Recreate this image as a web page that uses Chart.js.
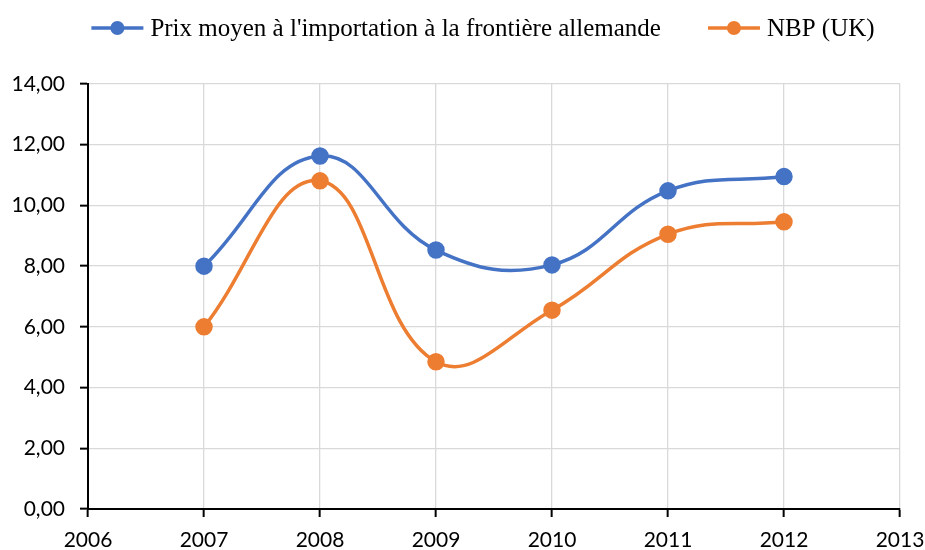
<!DOCTYPE html>
<html>
<head>
<meta charset="utf-8">
<script src="https://cdn.jsdelivr.net/npm/chart.js@4/dist/chart.umd.min.js"></script>
<style>
  html, body { margin: 0; padding: 0; background: #fff; }
  #wrap { width: 925px; height: 550px; }
</style>
</head>
<body>
<div id="wrap"><canvas id="myChart" width="925" height="550"></canvas></div>
<script>
// ===== data =====
const years = [2007, 2008, 2009, 2010, 2011, 2012];
const importPrice = [8.00, 11.63, 8.53, 8.04, 10.48, 10.95]; // Prix moyen ... allemande
const nbpUK = [6.00, 10.81, 4.85, 6.55, 9.05, 9.46];          // NBP (UK)
const seriesNames = ["Prix moyen à l'importation à la frontière allemande", "NBP (UK)"];
const yTicks = [0, 2, 4, 6, 8, 10, 12, 14];
const xTicks = [2006, 2007, 2008, 2009, 2010, 2011, 2012, 2013];

const BLUE = "#4472C4";
const ORANGE = "#ED7D31";

const toPoints = (vals) => years.map((y, i) => ({ x: y, y: vals[i] }));

// legend drawn by hand (line + dot marker, like Excel)
const excelLegend = {
  id: "excelLegend",
  afterDraw(chart) {
    const ctx = chart.ctx;
    const colors = [BLUE, ORANGE];
    const markerW = 52, textGap = 7, itemGap = 47, cy = 28;
    ctx.save();
    ctx.font = "25px 'Liberation Serif'";
    ctx.textBaseline = "middle";
    const widths = seriesNames.map((t) => ctx.measureText(t).width);
    let total = 0;
    widths.forEach((w, i) => {
      total += markerW + textGap + w + (i ? itemGap : 0);
    });
    let x = 483 - total / 2;
    seriesNames.forEach((name, i) => {
      ctx.strokeStyle = colors[i];
      ctx.lineWidth = 3.5;
      ctx.beginPath();
      ctx.moveTo(x, cy);
      ctx.lineTo(x + markerW, cy);
      ctx.stroke();
      ctx.fillStyle = colors[i];
      ctx.beginPath();
      ctx.arc(x + markerW / 2, cy, 7, 0, Math.PI * 2);
      ctx.fill();
      ctx.fillStyle = "#000";
      ctx.fillText(name, x + markerW + textGap, cy + 1);
      x += markerW + textGap + widths[i] + itemGap;
    });
    ctx.restore();
  },
};

const tickFont = { family: "'Lato', 'Liberation Sans', sans-serif", size: 21 };

const ctx = document.getElementById("myChart").getContext("2d");
const myChart = new Chart(ctx, {
  type: "line",
  data: {
    datasets: [
      {
        label: seriesNames[0],
        data: toPoints(importPrice),
        borderColor: BLUE,
        backgroundColor: BLUE,
        borderWidth: 3.5,
        pointRadius: 7,
        pointHoverRadius: 7,
        tension: 0.42,
      },
      {
        label: seriesNames[1],
        data: toPoints(nbpUK),
        borderColor: ORANGE,
        backgroundColor: ORANGE,
        borderWidth: 3.5,
        pointRadius: 7,
        pointHoverRadius: 7,
        tension: 0.42,
      },
    ],
  },
  options: {
    responsive: false,
    animation: false,
    layout: { padding: { top: 84, right: 0, left: 0, bottom: 0 } },
    plugins: {
      legend: { display: false },
      tooltip: { enabled: false },
    },
    scales: {
      x: {
        type: "linear",
        min: 2006,
        max: 2013,
        afterBuildTicks: (scale) => {
          scale.ticks = xTicks.map((v) => ({ value: v }));
        },
        afterFit: (scale) => {
          scale.height = 41;
          scale.paddingRight = 25;
        },
        ticks: {
          color: "#000",
          font: tickFont,
          padding: 11,
          maxRotation: 0,
          callback: (v) => String(v),
        },
        grid: {
          color: "#d9d9d9",
          lineWidth: 1.3,
          tickColor: "#000",
          tickWidth: 2,
          tickLength: 8,
        },
        border: { color: "#000", width: 2 },
      },
      y: {
        min: 0,
        max: 14,
        afterBuildTicks: (scale) => {
          scale.ticks = yTicks.map((v) => ({ value: v }));
        },
        afterFit: (scale) => {
          scale.width = 88;
        },
        ticks: {
          color: "#000",
          font: tickFont,
          padding: 15,
          callback: (v) => v.toFixed(2).replace(".", ","),
        },
        grid: {
          color: "#d9d9d9",
          lineWidth: 1.3,
          tickColor: "#000",
          tickWidth: 2,
          tickLength: 8,
        },
        border: { color: "#000", width: 2 },
      },
    },
  },
  plugins: [excelLegend],
});
</script>
</body>
</html>
